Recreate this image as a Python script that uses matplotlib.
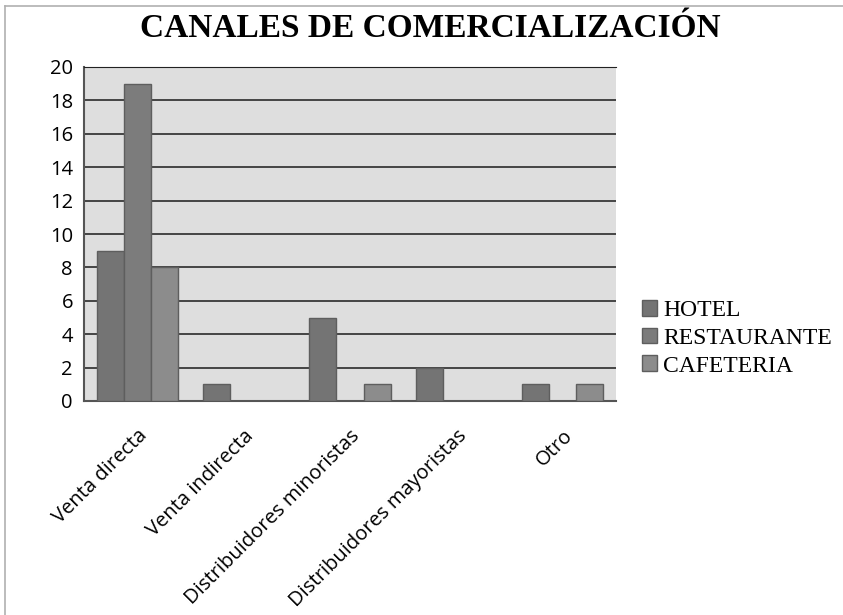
import numpy as np
import matplotlib.pyplot as plt
from matplotlib.lines import Line2D

# datos
categorias = ["Venta directa", "Venta indirecta", "Distribuidores minoristas",
              "Distribuidores mayoristas", "Otro"]
hotel = [9, 1, 5, 2, 1]
restaurante = [19, 0, 0, 0, 0]
cafeteria = [8, 0, 1, 0, 1]
series = ["HOTEL", "RESTAURANTE", "CAFETERIA"]
colores = ["#747474", "#7c7c7c", "#8c8c8c"]

fig = plt.figure(figsize=(8.43, 6.15), dpi=100)
ax = fig.add_axes([84 / 843, 1 - 401 / 615, (616 - 84) / 843, (401 - 67) / 615])
ax.set_facecolor("#dedede")

x = np.arange(len(categorias))
w = 0.255
for k, (vals, col, nom) in enumerate(zip([hotel, restaurante, cafeteria], colores, series)):
    ax.bar(x + (k - 1) * w, vals, width=w, color=col, edgecolor="#5e5e5e",
           linewidth=1.0, label=nom, zorder=3)

ax.set_xlim(-0.5, len(categorias) - 0.5)
ax.set_ylim(0, 20)
ax.set_yticks(np.arange(0, 21, 2))
ax.yaxis.grid(True, color="#2a2a2a", linewidth=1.2, zorder=1)
ax.set_axisbelow(True)
ax.tick_params(axis="y", length=0, labelsize=14.5, pad=8)
ax.tick_params(axis="x", length=0, pad=18)
ax.set_xticks(x)
ax.set_xticklabels(categorias, rotation=45, ha="right", rotation_mode="anchor",
                   fontsize=14.5, family="Open Sans")
for lab in ax.get_yticklabels():
    lab.set_family("Open Sans")
for s in ["left", "bottom"]:
    ax.spines[s].set_color("#555555")
    ax.spines[s].set_linewidth(1.5)
ax.spines["top"].set_color("#222222")
ax.spines["right"].set_visible(False)

fig.text(0.51, 0.954, "CANALES DE COMERCIALIZACIÓN", ha="center", va="center",
         fontsize=24, fontweight="bold", family="Liberation Serif")

leg = fig.legend(loc="center left", bbox_to_anchor=(0.750, 0.45), frameon=False,
                 prop={"family": "Liberation Serif", "size": 17},
                 handlelength=0.65, handleheight=0.65, handletextpad=0.25,
                 labelspacing=0.28, borderaxespad=0)

# marco gris superior e izquierdo
fig.add_artist(Line2D([5 / 843, 1], [1 - 6 / 615] * 2, color="#b0b0b0", lw=1.2))
fig.add_artist(Line2D([5 / 843] * 2, [0, 1 - 6 / 615], color="#b0b0b0", lw=1.2))

fig.savefig("out.png", dpi=100)
